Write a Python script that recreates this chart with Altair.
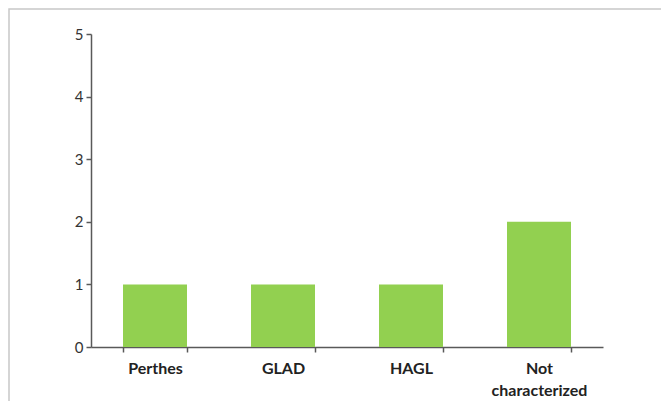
import altair as alt
import pandas as pd

categories = ["Perthes", "GLAD", "HAGL", "Not characterized"]
counts = [1, 1, 1, 2]

df = pd.DataFrame({"category": categories, "count": counts})

font = "Lato"
axis_color = "#595959"

bars = alt.Chart(df).mark_bar(color="#92D050").encode(
    x=alt.X(
        "category:N",
        sort=categories,
        scale=alt.Scale(paddingInner=0.5, paddingOuter=0.25),
        axis=alt.Axis(
            title=None,
            labelAngle=0,
            labelFont=font,
            labelFontWeight="bold",
            labelFontSize=16,
            labelColor="#222222",
            labelPadding=8,
            labelExpr="datum.value == 'Not characterized' ? ['Not', 'characterized'] : datum.value",
            labelLineHeight=22,
            domainColor=axis_color,
            domainWidth=1.5,
            tickColor=axis_color,
            tickWidth=1.5,
            tickSize=5,
            tickBand="extent",
        ),
    ),
    y=alt.Y(
        "count:Q",
        scale=alt.Scale(domain=[0, 5]),
        axis=alt.Axis(
            title=None,
            values=[0, 1, 2, 3, 4, 5],
            grid=False,
            labelFont=font,
            labelFontSize=15,
            labelColor="#333333",
            labelPadding=3,
            domainColor=axis_color,
            domainWidth=1.5,
            tickColor=axis_color,
            tickWidth=1.5,
            tickSize=5,
        ),
    ),
)

border = alt.Chart(pd.DataFrame({"k": [0]})).mark_rect(
    fill=None, stroke="#c8c8c8", strokeWidth=1.5
).encode(
    x=alt.value(-82),
    x2=alt.value(700),
    y=alt.value(-25),
    y2=alt.value(500),
)

chart = alt.layer(border, bars).properties(
    width=512,
    height=313,
    background="white",
    autosize=alt.AutoSizeParams(type="none"),
    padding={"left": 83, "top": 26, "right": 58, "bottom": 54},
).configure_view(strokeWidth=0, stroke="transparent")

chart.save("out.html", embed_options={"renderer": "svg", "actions": False})
